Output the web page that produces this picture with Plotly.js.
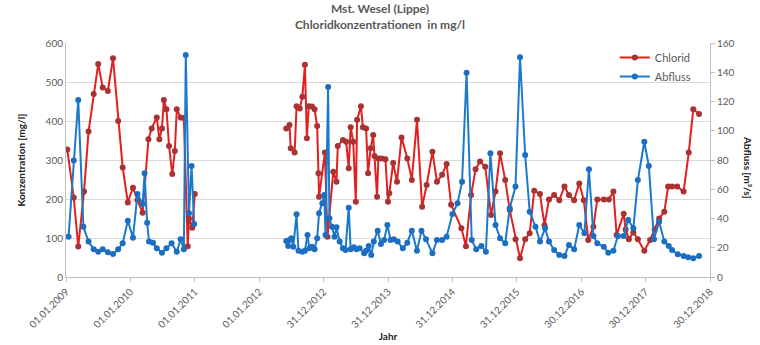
<!DOCTYPE html>
<html>
<head>
<meta charset="utf-8">
<script src="https://cdn.plot.ly/plotly-3.0.1.min.js"></script>
<style>html,body{margin:0;padding:0;background:#fff;}#chart{width:760px;height:345px;}</style>
</head>
<body>
<div id="chart"></div>
<script>
// x values are decimal years (1 unit = one 365-day tick interval starting 01.01.2009)
const chloridDates = [2009.02,2009.12,2009.19,2009.28,2009.35,2009.43,2009.50,2009.57,2009.65,2009.73,2009.81,2009.88,2009.96,2010.04,2010.11,2010.19,2010.28,2010.33,2010.41,2010.45,2010.49,2010.52,2010.56,2010.60,2010.65,2010.69,2010.72,2010.78,2010.83,2010.89,2010.91,2010.96,2011.00,
  2011.70,
  2012.42,2012.47,2012.49,2012.55,2012.58,2012.63,2012.67,2012.71,2012.74,2012.77,2012.82,2012.86,2012.90,2012.92,2012.93,2013.02,2013.06,2013.15,2013.20,2013.22,2013.30,2013.35,2013.39,2013.42,2013.46,2013.50,2013.52,2013.58,2013.61,2013.66,2013.69,2013.73,2013.77,2013.79,2013.83,2013.85,2013.90,2013.96,2014.00,2014.02,2014.08,2014.14,2014.21,2014.30,2014.37,2014.45,2014.53,2014.60,2014.69,2014.76,2014.84,2014.91,2014.98,2015.14,2015.21,2015.29,2015.36,2015.43,2015.51,2015.60,2015.67,2015.74,2015.82,2015.89,2015.98,2016.05,2016.13,2016.20,2016.27,2016.36,2016.43,2016.50,2016.58,2016.66,2016.74,2016.81,2016.89,2016.97,2017.04,2017.11,2017.19,2017.25,2017.35,2017.43,2017.50,2017.55,2017.66,2017.69,2017.74,2017.81,2017.88,2017.98,2018.07,2018.14,2018.21,2018.29,2018.35,2018.41,2018.49,2018.59,2018.67,2018.74,2018.83];
const chlorid = [327,204,78,219,373,469,546,486,477,561,400,281,191,229,197,165,353,381,409,353,381,454,430,336,264,323,430,409,408,79,150,126,213,
  null,
  381,390,330,319,438,432,462,544,356,438,437,430,387,266,206,319,103,270,244,336,351,347,279,384,347,193,403,438,384,381,266,330,364,310,206,304,304,302,193,215,292,244,358,304,249,403,180,236,321,244,262,290,185,125,79,210,276,296,283,159,219,317,249,172,97,48,97,112,221,213,133,199,210,197,232,210,197,240,197,95,129,199,199,199,219,108,162,122,97,114,97,67,95,122,150,167,232,232,232,219,319,430,418];

const abflussDates = [2009.04,2009.12,2009.19,2009.27,2009.35,2009.43,2009.50,2009.57,2009.65,2009.73,2009.81,2009.88,2009.96,2010.04,2010.11,2010.19,2010.22,2010.26,2010.29,2010.35,2010.41,2010.49,2010.56,2010.64,2010.72,2010.78,2010.83,2010.86,2010.91,2010.95,2010.99,
  2011.70,
  2012.42,2012.45,2012.47,2012.50,2012.53,2012.58,2012.61,2012.67,2012.71,2012.75,2012.78,2012.82,2012.86,2012.90,2012.93,2012.98,2013.01,2013.03,2013.07,2013.09,2013.13,2013.17,2013.20,2013.25,2013.30,2013.34,2013.39,2013.42,2013.47,2013.51,2013.56,2013.63,2013.66,2013.70,2013.74,2013.78,2013.84,2013.89,2013.94,2013.99,2014.04,2014.09,2014.15,2014.23,2014.30,2014.37,2014.45,2014.52,2014.59,2014.69,2014.76,2014.84,2014.91,2015.00,2015.08,2015.15,2015.22,2015.30,2015.37,2015.45,2015.52,2015.59,2015.67,2015.74,2015.82,2015.89,2015.98,2016.05,2016.13,2016.20,2016.29,2016.36,2016.44,2016.50,2016.58,2016.66,2016.74,2016.81,2016.89,2016.97,2017.05,2017.12,2017.19,2017.25,2017.35,2017.42,2017.50,2017.57,2017.66,2017.73,2017.81,2017.88,2017.98,2018.05,2018.13,2018.21,2018.29,2018.36,2018.41,2018.50,2018.59,2018.66,2018.74,2018.83];
const abfluss = [27.6,79.6,121,34.4,24.2,18.9,17.3,18.9,16.9,15.7,18.9,23,38.5,26.9,56.8,49.9,70.9,37.1,24.2,23.5,19.6,16.6,19.6,23,17.3,25.8,18.9,151.8,43.6,75.9,36.3,
  null,
  24.6,21.2,25.3,26.5,20.7,42.9,18,17.3,18,28.7,19.6,20.7,18.9,26.5,43.6,50.4,56.1,28.7,130,40.1,34.4,27.6,34,24.2,19.6,18.5,47.4,18.9,20.3,18.9,19.6,16.2,18,21.2,15,24.2,31.7,22.6,25.3,35.6,25.3,25.8,24.2,19.6,23.5,31.7,18,31.7,25.8,16.2,25.3,25.3,27.6,43.1,50.4,65.2,139.7,25.3,18.9,21.2,17.3,84.6,35.6,26.5,23,47,61.8,150.3,83.4,44.7,34.4,24.2,33.3,24.2,18.5,15,14.4,21.9,18.9,35.6,29.9,73.7,28,23,20.7,16.6,18,28,28,39,33.3,66.3,92.5,75.9,25.8,37.8,24.2,21.2,18.5,15.5,14.4,13.5,12.8,14.4];

const tickPositions = [2009,2010,2011,2012,2013,2014,2015,2016,2017,2018,2019];
const tickLabels = ['01.01.2009','01.01.2010','01.01.2011','01.01.2012','31.12.2012','31.12.2013','31.12.2014','31.12.2015','30.12.2016','30.12.2017','30.12.2018'];

const FONT = 'Lato, "Open Sans", sans-serif';
const GRAY = '#595959';

const traces = [
  {
    x: chloridDates, y: chlorid, name: 'Chlorid', type: 'scatter', mode: 'lines+markers',
    line: {color: '#e41f1f', width: 2},
    marker: {color: '#a93232', size: 6, line: {color: '#a93232', width: 0}},
    connectgaps: false, yaxis: 'y'
  },
  {
    x: abflussDates, y: abfluss, name: 'Abfluss', type: 'scatter', mode: 'lines+markers',
    line: {color: '#1c7acb', width: 2},
    marker: {color: '#1c6fc0', size: 6},
    connectgaps: false, yaxis: 'y2'
  }
];

const layout = {
  width: 760, height: 345,
  margin: {l: 66, r: 50, t: 43, b: 68},
  paper_bgcolor: '#ffffff', plot_bgcolor: '#ffffff',
  font: {family: FONT, color: GRAY, size: 10},
  title: {
    text: '<b>Mst. Wesel (Lippe)</b><br><b>Chloridkonzentrationen  in mg/l</b>',
    font: {family: FONT, size: 12, color: GRAY},
    x: 0.5, xanchor: 'center', y: 0.962, yanchor: 'top'
  },
  showlegend: true,
  legend: {
    x: 0.978, xanchor: 'right', y: 1.0, yanchor: 'top',
    bgcolor: 'rgba(255,255,255,0)', font: {family: FONT, size: 11, color: GRAY},
    tracegroupgap: 0
  },
  xaxis: {
    range: [2009, 2019], tickmode: 'array', tickvals: tickPositions, ticktext: tickLabels,
    tickangle: -45, tickfont: {family: FONT, size: 10, color: GRAY},
    showgrid: false, zeroline: false, showline: true, linecolor: '#bfbfbf', linewidth: 1,
    ticks: 'outside', ticklen: 4, tickcolor: '#bfbfbf',
    title: {text: '<b>Jahr</b>', font: {family: FONT, size: 10, color: '#222'}, standoff: 2}
  },
  yaxis: {
    range: [0, 600], dtick: 100, tickfont: {family: FONT, size: 10, color: GRAY},
    showgrid: true, gridcolor: '#d9d9d9', gridwidth: 1, zeroline: false,
    showline: true, linecolor: '#bfbfbf', linewidth: 1, ticks: '',
    title: {text: '<b>Konzentration [mg/l]</b>', font: {family: FONT, size: 10, color: '#222'}, standoff: 18}
  },
  yaxis2: {
    range: [0, 160], dtick: 20, overlaying: 'y', side: 'right',
    tickfont: {family: FONT, size: 10, color: GRAY},
    showgrid: false, zeroline: false, showline: true, linecolor: '#bfbfbf', linewidth: 1,
    ticks: 'outside', ticklen: 4, tickcolor: '#bfbfbf'
  },
  annotations: [{
    text: '<b>Abfluss [m³/s]</b>', xref: 'paper', yref: 'paper', x: 1, y: 0.47,
    xanchor: 'center', yanchor: 'middle', xshift: 38, textangle: 90, showarrow: false,
    font: {family: FONT, size: 10, color: '#222'}
  }]
};

Plotly.newPlot('chart', traces, layout, {displayModeBar: false, staticPlot: true});
</script>
</body>
</html>
